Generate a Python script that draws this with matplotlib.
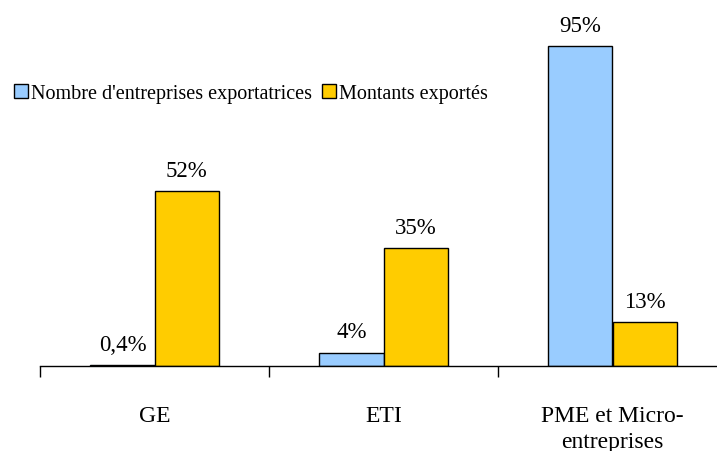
import numpy as np
import matplotlib.pyplot as plt

categories = ['GE', 'ETI', 'PME et Micro-\nentreprises']
nb_entreprises = [0.4, 4, 95]
montants = [52, 35, 13]
labels_nb = ['0,4%', '4%', '95%']
labels_mt = ['52%', '35%', '13%']

plt.rcParams['font.family'] = ['Liberation Serif', 'DejaVu Serif']

fig = plt.figure(figsize=(7.17, 4.52), dpi=100)
W, H = 717.0, 452.0
ax = fig.add_axes([40 / W, 85 / H, 687 / W, 337 / H])

x = np.arange(len(categories))
width = 0.28
b1 = ax.bar(x - width / 2, nb_entreprises, width, color='#99CCFF', edgecolor='black',
            linewidth=1, label="Nombre d'entreprises exportatrices")
b2 = ax.bar(x + width / 2, montants, width, color='#FFCC00', edgecolor='black',
            linewidth=1, label='Montants exportés')

for rect, txt in zip(b1, labels_nb):
    ax.text(rect.get_x() + rect.get_width() / 2, rect.get_height() + 3, txt,
            ha='center', va='bottom', fontsize=16.5)
for rect, txt in zip(b2, labels_mt):
    ax.text(rect.get_x() + rect.get_width() / 2, rect.get_height() + 3, txt,
            ha='center', va='bottom', fontsize=16.5)

ax.set_xlim(-0.5, 2.5)
ax.set_ylim(0, 100)

for s in ['top', 'right', 'left']:
    ax.spines[s].set_visible(False)
ax.spines['bottom'].set_linewidth(1)
ax.set_yticks([])

ax.set_xticks(x)
ax.set_xticklabels(categories, fontsize=17, linespacing=1.35)
ax.tick_params(axis='x', which='major', length=0, pad=28)
ax.set_xticks([-0.5, 0.5, 1.5, 2.5], minor=True)
ax.tick_params(axis='x', which='minor', length=8, width=1, direction='out')

ax.legend(loc='upper left', bbox_to_anchor=(-0.05, 0.86), ncol=2, frameon=False,
          fontsize=14.5, handlelength=0.7, handleheight=0.7, handletextpad=0.15,
          columnspacing=0.5, borderaxespad=0)

fig.savefig('out.png', dpi=100)
